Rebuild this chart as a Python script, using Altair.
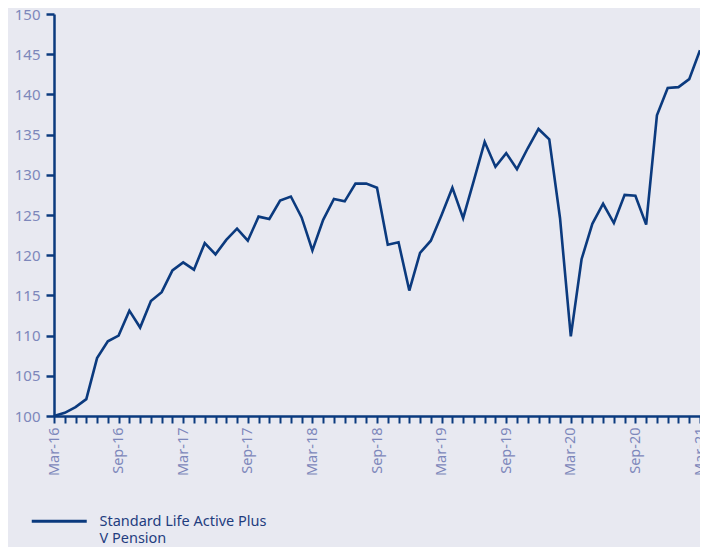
import altair as alt
import pandas as pd

months = [d.strftime("%b-%y") for d in pd.date_range("2016-03-01", "2021-03-01", freq="MS")]

values = [
    100.0, 100.4, 101.1, 102.1, 107.2, 109.3, 110.0, 113.1, 111.0, 114.3,
    115.4, 118.1, 119.1, 118.2, 121.5, 120.1, 121.9, 123.3, 121.8, 124.8,
    124.5, 126.8, 127.3, 124.7, 120.6, 124.4, 127.0, 126.7, 128.9, 128.9,
    128.4, 121.3, 121.6, 115.6, 120.3, 121.8, 125.0, 128.4, 124.6, 129.3,
    134.1, 131.0, 132.7, 130.7, 133.3, 135.7, 134.4, 124.6, 109.9, 119.5,
    123.9, 126.4, 124.0, 127.5, 127.4, 123.8, 137.4, 140.8, 140.9, 141.9,
    145.5,
]

series = "Standard Life Active Plus|V Pension"

df = pd.DataFrame({"month": months, "value": values, "series": series})

navy = "#0b3a7e"
label_col = "#7d87bb"
bg = "#e8e9f1"

chart = alt.Chart(df).mark_line(strokeWidth=2.6, clip=False).encode(
    x=alt.X(
        "month:O",
        sort=months,
        scale=alt.Scale(type="point", padding=0),
        axis=alt.Axis(
            title=None,
            labelAngle=-90,
            labelAlign="right",
            labelBaseline="middle",
            labelExpr="(indexof(datum.label,'Mar')==0 || indexof(datum.label,'Sep')==0) ? datum.label : ''",
            labelColor=label_col,
            labelFontSize=14.5,
            labelFont="Noto Sans",
            labelPadding=4,
            labelOverlap=False,
            labelFlush=False,
            domainColor=navy,
            domainWidth=2.5,
            tickColor=navy,
            tickWidth=2,
            tickSize=7,
            grid=False,
        ),
    ),
    y=alt.Y(
        "value:Q",
        scale=alt.Scale(domain=[100, 150], nice=False, zero=False),
        axis=alt.Axis(
            title=None,
            values=list(range(100, 151, 5)),
            labelColor=label_col,
            labelFontSize=15,
            labelFont="Noto Sans",
            labelPadding=6,
            domainColor=navy,
            domainWidth=2.5,
            tickColor=navy,
            tickWidth=2.5,
            tickSize=8,
            grid=False,
        ),
    ),
    color=alt.Color(
        "series:N",
        scale=alt.Scale(range=[navy]),
        legend=alt.Legend(
            title=None,
            orient="none",
            legendX=-2,
            legendY=494,
            symbolType="M-5,1.1H5",
            symbolSize=121,
            symbolStrokeWidth=3,
            labelExpr="split(datum.label, '|')",
            labelColor="#1f3d7f",
            labelFontSize=14.5,
            labelFont="Noto Sans",
            labelOffset=33,
            labelLimit=400,
            labelBaseline="top",
        ),
    ),
).properties(
    width=646,
    height=402,
    autosize=alt.AutoSizeParams(type="none"),
    padding={"left": 46, "top": 6, "right": 0, "bottom": 131},
    background=bg,
).configure_view(stroke=None, fill=bg)

chart.save("out.html", embed_options={"renderer": "svg", "actions": False})
